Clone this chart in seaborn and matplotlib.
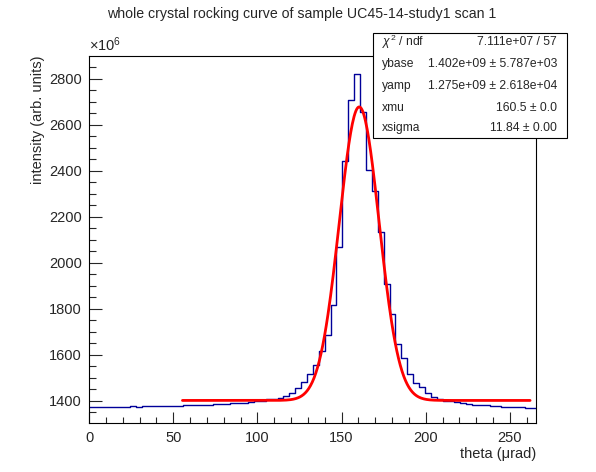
import numpy as np
import pandas as pd
import seaborn as sns
import matplotlib
matplotlib.use("Agg")
import matplotlib.pyplot as plt
from matplotlib.patches import Rectangle
from matplotlib.ticker import MultipleLocator

# histogram: 76 bins of 3.5 urad from 0 to 266, contents in units of 1e6
bin_width = 3.5
n_bins = 76
counts = [1372, 1372, 1372, 1372, 1372, 1372, 1372, 1377, 1374, 1377,
          1377, 1377, 1377, 1377, 1377, 1377, 1381, 1381, 1381, 1381,
          1381, 1387, 1387, 1387, 1391, 1391, 1391, 1396, 1400, 1401,
          1408, 1410, 1413, 1423, 1435, 1455, 1483, 1517, 1557, 1617,
          1687, 1816, 2070, 2444, 2709, 2820, 2656, 2405, 2311, 2134,
          1908, 1777, 1646, 1586, 1518, 1478, 1460, 1433, 1416, 1410,
          1400, 1399, 1394, 1390, 1386, 1381, 1381, 1381, 1378, 1378,
          1373, 1373, 1373, 1373, 1368, 1368]

# fit result (gaussian on flat base), as printed in the stats box
ybase = 1.402e9
yamp = 1.275e9
xmu = 160.5
xsigma = 11.84
fit_range = (55.5, 262.0)

stat_names = [r"$\chi^{2}$ / ndf", "ybase", "yamp", "xmu", "xsigma"]
stat_values = ["7.111e+07 / 57", "1.402e+09 ± 5.787e+03",
               "1.275e+09 ± 2.618e+04", "160.5 ± 0.0", "11.84 ± 0.00"]

centers = (np.arange(n_bins) + 0.5) * bin_width
df = pd.DataFrame({"theta": centers, "intensity": counts})

xf = np.linspace(fit_range[0], fit_range[1], 400)
yf = (ybase + yamp * np.exp(-0.5 * ((xf - xmu) / xsigma) ** 2)) / 1e6
fit = pd.DataFrame({"theta": xf, "intensity": yf})

sns.set_style("ticks")
plt.rcParams["font.family"] = ["Liberation Sans", "DejaVu Sans"]
plt.rcParams["mathtext.fontset"] = "custom"
plt.rcParams["mathtext.rm"] = "Liberation Sans"
plt.rcParams["mathtext.it"] = "Liberation Sans:italic"

fig = plt.figure(figsize=(5.96, 4.72), dpi=100)
ax = fig.add_axes([89 / 596, 1 - 423 / 472, (536 - 89) / 596, (423 - 56) / 472])

sns.histplot(data=df, x="theta", weights="intensity", binwidth=bin_width,
             binrange=(0, n_bins * bin_width), element="step", fill=False,
             color="#000099", linewidth=1.0, ax=ax)
sns.lineplot(data=fit, x="theta", y="intensity", color="red", linewidth=2.0, ax=ax)

ax.set_xlim(0, 265.5)
ax.set_ylim(1304, 2898)
ax.xaxis.set_major_locator(MultipleLocator(50))
ax.xaxis.set_minor_locator(MultipleLocator(10))
ax.yaxis.set_major_locator(MultipleLocator(200))
ax.yaxis.set_minor_locator(MultipleLocator(50))
ax.tick_params(axis="x", which="major", direction="in", length=8, width=0.8,
               labelsize=10.5, pad=6)
ax.tick_params(axis="x", which="minor", direction="in", length=4, width=0.8)
ax.tick_params(axis="y", which="major", direction="in", length=9.5, width=0.8,
               labelsize=10.5, pad=5)
ax.tick_params(axis="y", which="minor", direction="in", length=4.8, width=0.8)
for s in ax.spines.values():
    s.set_linewidth(0.8)
    s.set_color("black")

ax.set_xlabel("theta (μrad)", fontsize=10.5, loc="right", labelpad=1)
ax.set_ylabel("intensity (arb. units)", fontsize=10.5, loc="top", labelpad=3)
ax.text(0.0, 1.005, r"$\times$10$^{6}$", transform=ax.transAxes,
        fontsize=10.5, ha="left", va="bottom")

fig.text(302 / 596, 1 - 14 / 472, "whole crystal rocking curve of sample UC45-14-study1 scan 1",
         ha="center", va="center", fontsize=10.2)

# stats box
bx0, bx1, by0, by1 = 373, 567, 33, 138
fig.patches.append(Rectangle((bx0 / 596, 1 - by1 / 472), (bx1 - bx0) / 596,
                             (by1 - by0) / 472, transform=fig.transFigure,
                             facecolor="white", edgecolor="black", linewidth=0.8,
                             zorder=5))
row_y = [41.7, 64.3, 86.0, 107.7, 128.3]
for name, val, yy in zip(stat_names, stat_values, row_y):
    fig.text(382 / 596, 1 - yy / 472, name, ha="left", va="center",
             fontsize=8.7, zorder=6)
    fig.text(557 / 596, 1 - yy / 472, val, ha="right", va="center",
             fontsize=8.7, zorder=6)

fig.savefig("out.png", dpi=100)
